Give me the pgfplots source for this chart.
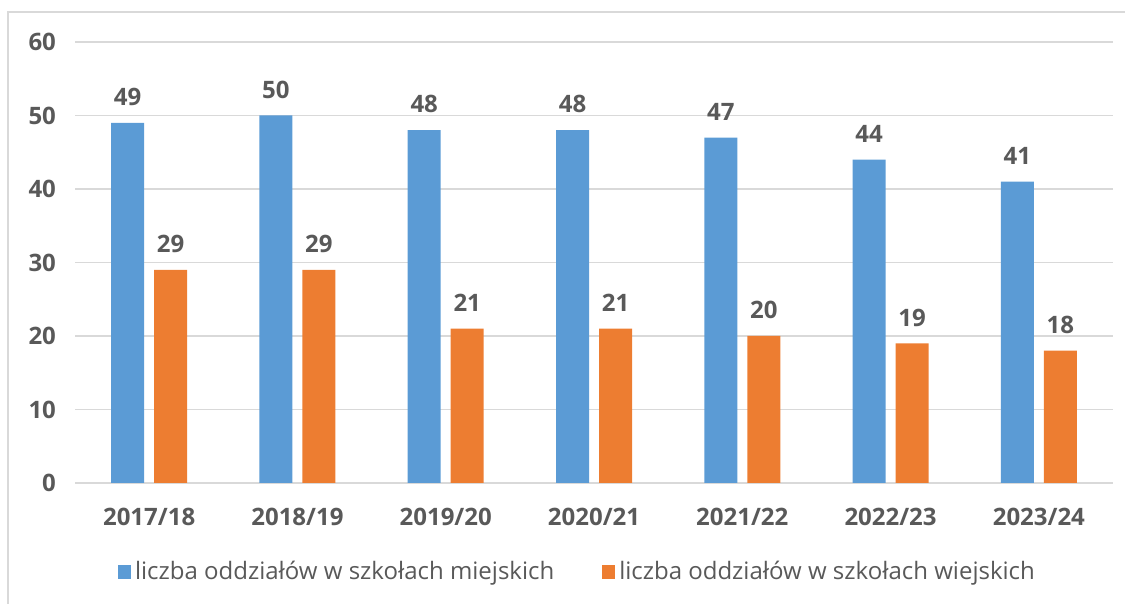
\documentclass[border=0pt]{standalone}
\usepackage{pgfplots}
\pgfplotsset{compat=1.18}
\usepackage{fontspec}
\setmainfont{Open Sans}
\definecolor{cblue}{HTML}{5B9BD5}
\definecolor{corange}{HTML}{ED7D31}
\definecolor{ctext}{HTML}{595959}
\definecolor{cgrid}{HTML}{D9D9D9}
\begin{document}
\begin{tikzpicture}
\path[use as bounding box] (-37.5pt,-60.5pt) rectangle (525pt,241.5pt);
\draw[cgrid, line width=1pt] (-33.5pt,-60.5pt) -- (-33.5pt,235.5pt) -- (525pt,235.5pt);
\begin{axis}[
  at={(0,0)}, anchor=south west,
  scale only axis,
  width=519pt, height=220.5pt,
  ybar=5pt, bar width=16.5pt,
  xmin=-0.5, xmax=6.5, ymin=0, ymax=60,
  xtick=data,
  xticklabels={2017/18,2018/19,2019/20,2020/21,2021/22,2022/23,2023/24},
  ytick={0,10,...,60},
  ymajorgrids, grid style={cgrid, line width=0.8pt},
  axis x line*=bottom, axis y line*=left,
  y axis line style={draw=none},
  x axis line style={cgrid, line width=0.8pt, -},
  major tick length=0pt,
  tick label style={font=\fontsize{12}{14}\selectfont\bfseries, text=ctext},
  /pgf/number format/assume math mode=true,
  xticklabel style={yshift=-9pt},
  yticklabel style={xshift=-6pt},
  nodes near coords,
  every node near coord/.append style={font=\fontsize{12}{14}\selectfont\bfseries, text=ctext, yshift=5pt},
  legend style={at={(0.485,-0.202)}, anchor=center, draw=none, legend columns=2,
    font=\fontsize{12}{14}\selectfont, text=ctext,
    /tikz/every even column/.append style={column sep=22pt}},
  legend image code/.code={\fill[#1] (0pt,-3.5pt) rectangle (6.5pt,3.5pt);},
]
\addplot[fill=cblue, draw=none] coordinates {(0,49) (1,50) (2,48) (3,48) (4,47) (5,44) (6,41)};
\addplot[fill=corange, draw=none] coordinates {(0,29) (1,29) (2,21) (3,21) (4,20) (5,19) (6,18)};
\legend{liczba oddziałów w szkołach miejskich, liczba oddziałów w szkołach wiejskich}
\end{axis}
\end{tikzpicture}
\end{document}
